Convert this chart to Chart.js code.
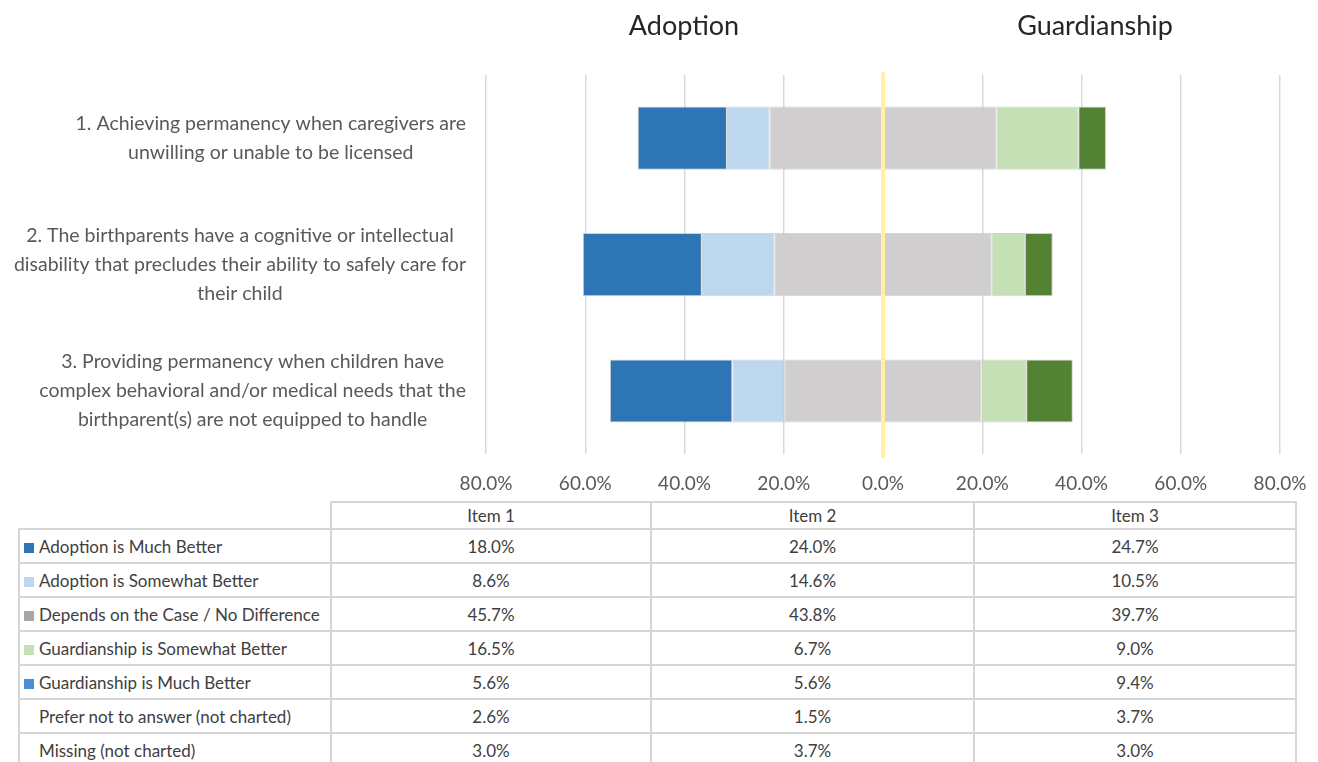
<!DOCTYPE html>
<html>
<head>
<meta charset="utf-8">
<script src="https://cdn.jsdelivr.net/npm/chart.js@4/dist/chart.umd.min.js"></script>
<style>
  html, body { margin: 0; padding: 0; background: #fff; }
  body { width: 1318px; height: 762px; position: relative; overflow: hidden; font-family: Lato, "Open Sans", sans-serif; }
  #wrap { position: absolute; left: 0; top: 0; width: 1318px; height: 519px; }
  .side-title { position: absolute; top: 8px; font-size: 27px; color: #262626; transform: translateX(-50%); white-space: nowrap; }
  #dataTable { position: absolute; left: 18px; top: 501px; border-collapse: collapse; table-layout: fixed; font-size: 17px; color: #404040; background: #fff; }
  #dataTable td, #dataTable th { border: 2px solid #d6d6d6; padding: 0; font-weight: normal; }
  #dataTable th { height: 25px; text-align: center; }
  #dataTable th.blank { border-top: none; border-left: none; background: transparent; }
  #dataTable td { height: 32px; }
  #dataTable td.num { text-align: center; }
  #dataTable td.lab { padding-left: 4px; white-space: nowrap; }
  .sw { display: inline-block; width: 10px; height: 10px; margin-right: 5px; vertical-align: 0px; }
  .nosw { display: inline-block; width: 10px; margin-right: 5px; }
</style>
</head>
<body>
<div id="wrap"><canvas id="chart" width="1318" height="519"></canvas></div>
<div class="side-title" style="left:684px">Adoption</div>
<div class="side-title" style="left:1095px">Guardianship</div>
<table id="dataTable"></table>
<script>
// Survey items and the question each one asks
const items = ['Item 1', 'Item 2', 'Item 3'];
const questionLabels = [
  ['1. Achieving permanency when caregivers are', 'unwilling or unable to be licensed'],
  ['2. The birthparents have a cognitive or intellectual', 'disability that precludes their ability to safely care for', 'their child'],
  ['3. Providing permanency when children have', 'complex behavioral and/or medical needs that the', 'birthparent(s) are not equipped to handle']
];

// Response shares (%) per item
const adoptionMuch = [18.0, 24.0, 24.7];
const adoptionSomewhat = [8.6, 14.6, 10.5];
const dependsNoDifference = [45.7, 43.8, 39.7];
const guardianshipSomewhat = [16.5, 6.7, 9.0];
const guardianshipMuch = [5.6, 5.6, 9.4];
const preferNotToAnswer = [2.6, 1.5, 3.7];
const missingResponses = [3.0, 3.7, 3.0];

// Axis ticks (symmetric, shown as absolute percentages)
const axisTicks = [-80, -60, -40, -20, 0, 20, 40, 60, 80];

const colors = {
  adoptionMuch: '#2e75b6',
  adoptionSomewhat: '#bdd7ee',
  depends: '#d0cece',
  guardianshipSomewhat: '#c5e0b4',
  guardianshipMuch: '#548235'
};

// Neutral share is split evenly either side of zero
const halfNeutral = dependsNoDifference.map(v => v / 2);
const neg = arr => arr.map(v => -v);

const barStyle = { borderColor: 'rgba(175,175,175,0.55)', borderWidth: 1, borderSkipped: false, barPercentage: 1.0, categoryPercentage: 0.5 };

const datasets = [
  Object.assign({ label: 'Depends on the Case / No Difference', data: neg(halfNeutral), backgroundColor: colors.depends }, barStyle),
  Object.assign({ label: 'Adoption is Somewhat Better', data: neg(adoptionSomewhat), backgroundColor: colors.adoptionSomewhat }, barStyle),
  Object.assign({ label: 'Adoption is Much Better', data: neg(adoptionMuch), backgroundColor: colors.adoptionMuch }, barStyle),
  Object.assign({ label: 'Depends on the Case / No Difference ', data: halfNeutral, backgroundColor: colors.depends }, barStyle),
  Object.assign({ label: 'Guardianship is Somewhat Better', data: guardianshipSomewhat, backgroundColor: colors.guardianshipSomewhat }, barStyle),
  Object.assign({ label: 'Guardianship is Much Better', data: guardianshipMuch, backgroundColor: colors.guardianshipMuch }, barStyle)
];

// Highlighted zero line, drawn above the bars
const zeroLine = {
  id: 'zeroLine',
  afterDatasetsDraw(chart) {
    const { ctx, chartArea, scales } = chart;
    const x = scales.x.getPixelForValue(0);
    ctx.save();
    ctx.strokeStyle = '#fff0a3';
    ctx.lineWidth = 4;
    ctx.lineCap = 'round';
    ctx.beginPath();
    ctx.moveTo(x, chartArea.top - 1);
    ctx.lineTo(x, chartArea.bottom + 2);
    ctx.stroke();
    ctx.restore();
  }
};

// Category labels: each block right-aligned, lines centred within the block
const questionText = {
  id: 'questionText',
  afterDraw(chart) {
    const { ctx, chartArea, scales } = chart;
    const lineH = 29;
    ctx.save();
    ctx.font = '19.5px Lato, "Open Sans", sans-serif';
    ctx.fillStyle = '#595959';
    ctx.textAlign = 'center';
    ctx.textBaseline = 'middle';
    const right = chartArea.left - 20;
    questionLabels.forEach((lines, i) => {
      const yc = scales.y.getPixelForValue(i);
      const widest = Math.max(...lines.map(l => ctx.measureText(l).width));
      const xc = right - widest / 2;
      lines.forEach((l, j) => {
        ctx.fillText(l, xc, yc + (j - (lines.length - 1) / 2) * lineH);
      });
    });
    ctx.restore();
  }
};

new Chart(document.getElementById('chart'), {
  type: 'bar',
  data: { labels: items, datasets },
  options: {
    indexAxis: 'y',
    responsive: false,
    animation: false,
    layout: { padding: { left: 478, right: 38, top: 75, bottom: 6 } },
    plugins: { legend: { display: false }, tooltip: { enabled: false } },
    scales: {
      x: {
        stacked: true,
        min: axisTicks[0],
        max: axisTicks[axisTicks.length - 1],
        afterBuildTicks(scale) { scale.ticks = axisTicks.map(v => ({ value: v })); },
        // end labels may overhang the plot edges; the page margins already leave room
        afterFit(scale) { scale.paddingLeft = 0; scale.paddingRight = 0; },
        border: { display: false },
        grid: {
          drawTicks: false,
          lineWidth: 1.5,
          color: ctx => (ctx.tick && ctx.tick.value === 0) ? 'rgba(0,0,0,0)' : '#d9d9d9'
        },
        ticks: {
          padding: 18,
          color: '#595959',
          font: { family: 'Lato, "Open Sans", sans-serif', size: 19 },
          callback: v => Math.abs(v).toFixed(1) + '%'
        }
      },
      y: {
        stacked: true,
        border: { display: false },
        grid: { display: false },
        ticks: { display: false }
      }
    }
  },
  plugins: [zeroLine, questionText]
});

// Data table with legend keys underneath the chart
const tableRows = [
  { label: 'Adoption is Much Better', swatch: '#2e75b6', values: adoptionMuch },
  { label: 'Adoption is Somewhat Better', swatch: '#bdd7ee', values: adoptionSomewhat },
  { label: 'Depends on the Case / No Difference', swatch: '#a6a6a6', values: dependsNoDifference },
  { label: 'Guardianship is Somewhat Better', swatch: '#c5e0b4', values: guardianshipSomewhat },
  { label: 'Guardianship is Much Better', swatch: '#4a8fd6', values: guardianshipMuch },
  { label: 'Prefer not to answer (not charted)', swatch: null, values: preferNotToAnswer },
  { label: 'Missing (not charted)', swatch: null, values: missingResponses }
];
const colWidths = [312, 320, 323, 322];
const table = document.getElementById('dataTable');
let html = '<colgroup>' + colWidths.map(w => `<col style="width:${w}px">`).join('') + '</colgroup>';
html += '<tr><th class="blank"></th>' + items.map(t => `<th>${t}</th>`).join('') + '</tr>';
tableRows.forEach(r => {
  const key = r.swatch ? `<span class="sw" style="background:${r.swatch}"></span>` : '<span class="nosw"></span>';
  html += `<tr><td class="lab">${key}${r.label}</td>` + r.values.map(v => `<td class="num">${v.toFixed(1)}%</td>`).join('') + '</tr>';
});
table.innerHTML = html;
</script>
</body>
</html>
